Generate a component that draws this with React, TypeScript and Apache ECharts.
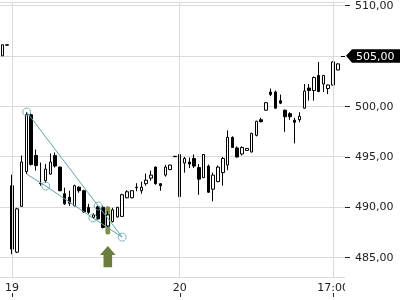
import React, { useEffect, useRef } from 'react';
import * as echarts from 'echarts';

// ---- categories (15-minute bars) ----
const sessionDays = ['19', '20'];
const barsPerSession = 35;
const categories: string[] = ['18 17:15', '18 17:30'];
sessionDays.forEach((d) => {
  for (let k = 0; k < barsPerSession; k++) {
    const mins = 9 * 60 + k * 15;
    const hh = String(Math.floor(mins / 60)).padStart(2, '0');
    const mm = String(mins % 60).padStart(2, '0');
    categories.push(`${d} ${hh}:${mm}`);
  }
});

// x-axis labels shown
const tickCategories = ['19 09:00', '20 09:00', '20 17:00'];
const tickLabels = ['19', '20', '17:00'];

// y-axis tick values
const yTicks = [485, 490, 495, 500, 505, 510];
const yMin = 483.03;
const yMax = 510.33;
const lastPrice = 505;

// ---- OHLC ----
const opens = [
  505.0, 506.05,
  492.1, 485.5, 490.05, 493.5, 499.15, 495.1, 492.35, 492.6, 493.25, 495.1,
  493.95, 491.3, 490.95, 490.1, 491.95, 491.6, 489.95, 488.95, 490.0, 489.95,
  488.1, 488.55, 489.0, 489.05, 490.9, 490.9, 491.9, 491.6, 492.3, 492.85,
  493.95, 492.3, 493.15, 493.7, 495.02,
  491.0, 494.35, 494.45, 494.8, 493.9, 492.9, 494.05, 491.75, 492.5, 493.4,
  494.15, 496.9, 495.85, 495.25, 495.6, 495.45, 497.1, 498.65, 499.6, 501.4,
  501.4, 500.55, 499.6, 499.25, 498.6, 498.65, 499.8, 501.8, 501.55, 503.05,
  502.2, 501.75, 502.1, 503.6,
];
const closes = [
  506.1, 506.1,
  485.8, 489.8, 494.45, 499.15, 494.2, 494.1, 492.3, 493.75, 494.45, 494.05,
  491.6, 490.3, 490.36, 492.1, 491.6, 489.5, 489.45, 489.2, 488.8, 487.95,
  489.2, 489.7, 489.95, 491.2, 491.5, 491.6, 491.95, 491.95, 492.65, 493.15,
  492.3, 492.1, 493.95, 494.15, 494.98,
  495.2, 494.8, 494.25, 494.05, 492.75, 495.2, 491.45, 493.15, 493.95, 494.8,
  496.9, 495.9, 494.95, 495.9, 495.8, 497.3, 498.5, 498.45, 500.35, 501.15,
  499.8, 500.3, 498.95, 498.95, 498.4, 499.0, 501.5, 501.55, 502.85, 501.45,
  503.05, 502.1, 504.4, 504.2,
];
const lows = [
  505.0, 506.0,
  485.3, 485.4, 490.0, 493.25, 494.1, 493.6, 492.1, 492.4, 493.2, 493.9,
  491.55, 490.2, 490.1, 490.05, 491.4, 489.4, 489.3, 488.8, 488.75, 487.85,
  487.9, 488.45, 488.95, 489.0, 490.85, 490.85, 491.55, 491.3, 492.1, 492.6,
  492.2, 491.6, 493.0, 493.65, 494.95,
  490.95, 493.4, 493.85, 493.85, 491.2, 492.85, 491.4, 490.55, 492.45, 492.1,
  493.65, 495.85, 494.9, 495.1, 495.55, 495.4, 497.0, 498.4, 499.55, 501.0,
  499.75, 500.2, 497.45, 498.65, 496.3, 498.4, 499.75, 500.55, 500.55, 501.4,
  501.4, 501.2, 502.05, 503.55,
];
const highs = [
  506.15, 506.1,
  493.2, 489.9, 495.1, 499.4, 499.3, 495.7, 494.4, 494.25, 495.3, 495.4,
  494.0, 491.9, 491.6, 492.2, 492.05, 491.7, 490.3, 489.35, 490.15, 490.1,
  489.55, 489.9, 490.0, 491.3, 491.65, 491.65, 492.35, 492.5, 493.3, 493.6,
  494.0, 492.35, 494.15, 494.2, 495.05,
  495.35, 494.95, 494.9, 495.2, 494.25, 495.25, 494.2, 493.4, 494.1, 494.95,
  497.6, 497.0, 496.0, 496.0, 495.85, 497.35, 498.55, 498.85, 500.4, 501.75,
  501.55, 501.15, 499.65, 499.4, 498.85, 499.4, 502.2, 502.2, 502.95, 504.4,
  503.1, 502.15, 504.45, 504.25,
];

// ---- drawings (x in bar index units, y in price) ----
const upperTrend = [[5.07, 499.42], [20.0, 490.08], [25.0, 486.99]];
const lowerTrend = [[5.07, 493.25], [9.04, 492.07], [18.87, 488.9], [25.0, 486.99]];
const trendPoints = [[5.07, 499.42], [20.0, 490.08], [25.0, 486.99], [9.04, 492.07], [18.87, 488.9]];
const highlightBar = [[22, 490.06, 487.24]];
const signalArrow = [[22, 486.1, 484.0]];

const TEAL = '#5fa5aa';
const FONT = 'DejaVu Sans';
const TEXT = '#222';
const GRIDLINE = '#dadada';

const fmt = (v: number) => v.toFixed(2).replace('.', ',');

export default function App() {
  const ref = useRef<HTMLDivElement>(null);
  useEffect(() => {
    const chart = echarts.init(ref.current!, null, { renderer: 'svg' });
    const candleData = opens.map((o, i) => [o, closes[i], lows[i], highs[i]]);
    const labelIdx = new Map<number, string>();
    tickCategories.forEach((c, k) => labelIdx.set(categories.indexOf(c), tickLabels[k]));

    chart.setOption({
      animation: false,
      grid: { left: 0, top: 0, width: 345, height: 277, containLabel: false },
      xAxis: [
        {
          type: 'category',
          data: categories,
          boundaryGap: true,
          axisLine: { show: false },
          axisTick: { show: false },
          splitLine: { show: false },
          axisLabel: {
            interval: (i: number) => labelIdx.has(i),
            formatter: (_v: string, i: number) => labelIdx.get(i) ?? '',
            color: TEXT,
            fontSize: 11,
            fontFamily: FONT,
            margin: 5,
          },
        },
        { type: 'value', min: -0.5, max: categories.length - 0.5, show: false },
      ],
      yAxis: {
        type: 'value',
        position: 'right',
        min: yMin,
        max: yMax,
        splitNumber: 5,
        axisLine: { show: false },
        axisTick: { show: false },
        axisLabel: {
          customValues: yTicks,
          formatter: (v: number) => (Math.abs(v - lastPrice) < 1e-6 ? '' : fmt(v)),
          color: TEXT,
          fontSize: 11,
          fontFamily: FONT,
          margin: 10,
        },
        splitLine: { show: true, lineStyle: { color: GRIDLINE, width: 1 } },
      },
      series: [
        {
          type: 'custom',
          xAxisIndex: 0,
          yAxisIndex: 0,
          z: 1,
          silent: true,
          data: highlightBar,
          renderItem: (_p: any, api: any) => {
            const a = api.coord([api.value(0), api.value(1)]);
            const b = api.coord([api.value(0), api.value(2)]);
            return {
              type: 'rect',
              shape: { x: a[0] - 2.4, y: a[1], width: 4.8, height: b[1] - a[1], r: 2 },
              style: { fill: '#7f8f4a' },
            };
          },
          markLine: {
            silent: true,
            symbol: ['none', 'none'],
            label: { show: false },
            lineStyle: { color: GRIDLINE, type: 'solid', width: 1 },
            emphasis: { disabled: true },
            data: tickCategories.map((c) => ({ xAxis: c })),
          },
        },
        {
          type: 'custom',
          xAxisIndex: 0,
          yAxisIndex: 0,
          z: 1,
          silent: true,
          data: signalArrow,
          renderItem: (_p: any, api: any) => {
            const t = api.coord([api.value(0), api.value(1)]);
            const b = api.coord([api.value(0), api.value(2)]);
            const x = t[0];
            const hy = t[1] + 9;
            return {
              type: 'polygon',
              shape: {
                points: [
                  [x, t[1]], [x + 7.8, hy], [x + 4.3, hy], [x + 4.3, b[1]],
                  [x - 4.3, b[1]], [x - 4.3, hy], [x - 7.8, hy],
                ],
              },
              style: { fill: '#6b7c3c' },
            };
          },
        },
        {
          type: 'candlestick',
          xAxisIndex: 0,
          yAxisIndex: 0,
          z: 2,
          barWidth: 3,
          data: candleData,
          itemStyle: {
            color: '#ffffff',
            color0: '#000000',
            borderColor: '#000000',
            borderColor0: '#000000',
            borderWidth: 1,
          },
        },
        {
          type: 'line',
          xAxisIndex: 1,
          yAxisIndex: 0,
          z: 3,
          symbol: 'none',
          data: upperTrend,
          lineStyle: { color: TEAL, width: 1 },
          silent: true,
        },
        {
          type: 'line',
          xAxisIndex: 1,
          yAxisIndex: 0,
          z: 3,
          symbol: 'none',
          data: lowerTrend,
          lineStyle: { color: TEAL, width: 1 },
          silent: true,
        },
        {
          type: 'scatter',
          xAxisIndex: 1,
          yAxisIndex: 0,
          z: 4,
          symbolSize: 8,
          data: trendPoints,
          itemStyle: { color: 'rgba(0,0,0,0)', borderColor: TEAL, borderWidth: 1 },
          silent: true,
        },
      ],
    });

    const py = chart.convertToPixel({ yAxisIndex: 0 }, lastPrice) as number;
    const xr = chart.convertToPixel({ xAxisIndex: 1 }, categories.length - 0.5) as number;
    const yb = chart.convertToPixel({ yAxisIndex: 0 }, yMin) as number;

    const yTickMarks = yTicks
      .filter((v) => v !== lastPrice)
      .map((v) => {
        const y = Math.round(chart.convertToPixel({ yAxisIndex: 0 }, v) as number) + 0.5;
        return {
          type: 'line',
          z: 50,
          silent: true,
          shape: { x1: xr, y1: y, x2: xr + 5, y2: y },
          style: { stroke: TEXT, lineWidth: 1 },
        };
      });
    const xTickMarks = tickCategories.map((c) => {
      const x = Math.round(chart.convertToPixel({ xAxisIndex: 0 }, c) as number) + 0.5;
      return {
        type: 'line',
        z: 50,
        silent: true,
        shape: { x1: x, y1: yb + 16, x2: x, y2: yb + 20 },
        style: { stroke: TEXT, lineWidth: 1 },
      };
    });

    chart.setOption({
      graphic: [
        ...yTickMarks,
        ...xTickMarks,
        {
          type: 'rect',
          z: 100,
          silent: true,
          shape: { x: xr, y: yb + 1, width: 400 - xr, height: 14 },
          style: { fill: '#ffffff' },
        },
        {
          type: 'line',
          z: 100,
          silent: true,
          shape: { x1: xr - 4, y1: Math.round(py) + 0.5, x2: xr, y2: Math.round(py) + 0.5 },
          style: { stroke: '#000', lineWidth: 1 },
        },
        {
          type: 'polygon',
          z: 100,
          silent: true,
          shape: {
            points: [[xr + 1, py], [xr + 7, py - 6.5], [400, py - 6.5], [400, py + 7], [xr + 7, py + 7]],
          },
          style: { fill: '#000' },
        },
        {
          type: 'text',
          z: 101,
          silent: true,
          x: xr + 11,
          y: py + 0.5,
          style: { text: fmt(lastPrice), fill: '#fff', fontSize: 11, fontFamily: FONT, verticalAlign: 'middle' },
        },
      ],
    });

    return () => chart.dispose();
  }, []);
  return <div ref={ref} style={{ position: 'fixed', left: 0, top: 0, width: 400, height: 300 }} />;
}
